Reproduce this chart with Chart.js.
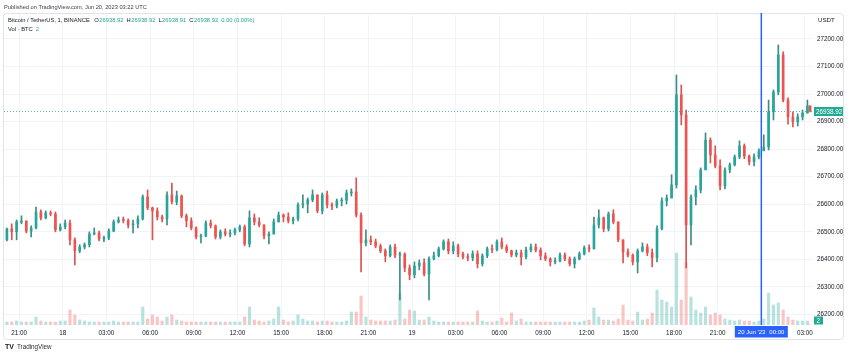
<!DOCTYPE html>
<html><head><meta charset="utf-8">
<script src="https://cdn.jsdelivr.net/npm/chart.js@4.4.0/dist/chart.umd.min.js"></script>
<style>html,body{margin:0;padding:0;background:#fff;}#wrap{position:relative;width:850px;height:356px;}</style>
</head><body><div id="wrap"><canvas id="c" width="850" height="356"></canvas></div>
<script>
// Time axis: minutes relative to 17 Jun 2023 21:00 UTC. Candles aggregated to 20-minute periods.
const START_MIN = -60;      // first candle opens 17 Jun 20:00
const PERIOD = 20;
const LAST_MIN = 3262;      // 20 Jun 03:22
const VIEW_MIN = -62, VIEW_MAX = 3273;

const opens = [26471,26511,26500,26536,26539,26503,26514,26572,26551,26569,26565,26507,26518,26532,26471,26431,26445,26453,26492,26496,
26474,26478,26503,26536,26543,26541,26525,26529,26547,26627,26587,26576,26554,26547,26634,26609,26630,26558,26540,26514,
26482,26485,26532,26522,26482,26500,26492,26496,26507,26518,26456,26551,26536,26525,26485,26492,26536,26561,26554,26540,
26547,26598,26601,26616,26634,26576,26634,26598,26594,26612,26615,26641,26645,26561,26460,26471,26464,26449,26431,26413,
26445,26416,26419,26369,26344,26376,26387,26347,26402,26413,26438,26464,26431,26449,26420,26409,26406,26420,26384,26413,
26438,26435,26464,26445,26431,26416,26424,26409,26434,26445,26434,26413,26402,26391,26395,26416,26402,26384,26402,26420,
26442,26438,26525,26551,26511,26565,26536,26471,26427,26416,26391,26431,26445,26424,26406,26511,26612,26623,26670,26997,
26924,26525,26627,26652,26725,26833,26779,26739,26667,26725,26743,26772,26812,26775,26754,26772,26794,26808,26935,27007,
27142,26978,26917,26899,26917,26931,26957];
const highs = [26514,26529,26543,26558,26540,26522,26590,26580,26576,26576,26572,26529,26543,26543,26478,26453,26460,26500,26514,26503,
26485,26511,26543,26554,26554,26547,26543,26558,26634,26652,26590,26587,26561,26645,26677,26648,26634,26565,26551,26518,
26492,26540,26543,26525,26507,26511,26507,26514,26525,26525,26576,26565,26551,26525,26500,26547,26572,26565,26569,26554,
26605,26634,26623,26652,26634,26641,26648,26605,26619,26623,26652,26656,26696,26569,26507,26485,26474,26456,26438,26453,
26456,26427,26424,26380,26391,26398,26402,26409,26427,26445,26471,26474,26464,26456,26427,26420,26431,26431,26420,26445,
26453,26471,26478,26453,26434,26434,26434,26445,26456,26456,26442,26424,26406,26406,26424,26424,26409,26409,26427,26449,
26453,26554,26580,26554,26572,26580,26536,26471,26438,26420,26438,26460,26456,26438,26522,26623,26634,26707,27069,27033,
26942,26634,26667,26732,26859,26841,26812,26761,26732,26750,26779,26830,26819,26779,26783,26801,26852,26978,27015,27178,
27153,26986,26935,26928,26942,26978,26957];
const lows = [26467,26471,26471,26529,26496,26482,26511,26543,26547,26558,26500,26503,26511,26453,26380,26424,26438,26445,26489,26467,
26464,26471,26500,26532,26532,26514,26496,26514,26543,26580,26471,26543,26536,26525,26601,26598,26551,26518,26507,26474,
26460,26482,26514,26474,26474,26485,26482,26489,26500,26449,26445,26525,26518,26474,26456,26492,26536,26536,26532,26529,
26540,26587,26569,26609,26569,26565,26587,26580,26587,26594,26601,26630,26554,26355,26449,26453,26442,26424,26391,26409,
26406,26253,26355,26326,26333,26362,26340,26253,26398,26409,26434,26420,26420,26409,26402,26395,26395,26369,26376,26406,
26424,26431,26438,26424,26409,26409,26380,26402,26427,26427,26398,26395,26376,26384,26391,26395,26376,26369,26398,26416,
26427,26438,26514,26500,26503,26529,26464,26387,26409,26380,26351,26427,26413,26373,26391,26507,26594,26623,26659,26888,
26369,26453,26598,26641,26725,26750,26732,26652,26656,26714,26739,26765,26765,26743,26739,26765,26794,26797,26906,26997,
26971,26891,26881,26884,26906,26931,26935];
const closes = [26511,26500,26536,26539,26503,26514,26572,26551,26569,26565,26507,26518,26532,26471,26431,26445,26453,26492,26496,26474,
26478,26503,26536,26543,26541,26525,26529,26547,26627,26587,26576,26554,26547,26634,26609,26630,26558,26540,26514,26482,
26485,26532,26522,26482,26500,26492,26496,26507,26518,26456,26551,26536,26525,26485,26492,26536,26561,26554,26540,26547,
26598,26601,26616,26634,26576,26634,26598,26594,26612,26615,26641,26645,26561,26460,26471,26464,26449,26431,26413,26445,
26416,26419,26369,26344,26376,26387,26347,26402,26413,26438,26464,26431,26449,26420,26409,26406,26420,26384,26413,26438,
26435,26464,26445,26431,26416,26424,26409,26434,26445,26434,26413,26402,26391,26395,26416,26402,26384,26402,26420,26442,
26438,26525,26551,26511,26565,26536,26471,26427,26416,26391,26431,26445,26424,26406,26511,26612,26623,26670,26997,26924,
26525,26627,26652,26725,26833,26779,26739,26667,26725,26743,26772,26812,26775,26754,26772,26794,26808,26935,27007,27142,
26978,26917,26899,26917,26931,26957,26938.92];
const volumes = [60,60,80,60,60,60,160,80,60,60,60,80,80,300,200,100,80,60,60,60,
60,60,80,60,60,60,60,60,360,120,200,160,80,160,200,100,80,60,60,60,
60,60,60,60,60,60,60,60,60,160,360,100,80,60,80,120,360,100,60,80,
200,120,80,80,60,80,80,60,60,60,80,260,260,580,160,100,80,80,80,80,
100,640,120,300,280,100,100,160,80,60,60,60,60,60,60,60,60,280,80,60,
60,80,140,60,240,80,120,60,60,60,60,60,60,60,60,60,60,60,60,80,
100,340,160,100,100,80,120,400,100,80,260,100,120,240,700,500,460,360,1440,500,
1240,560,300,240,360,200,240,200,120,100,80,100,80,80,60,80,120,640,400,440,
300,160,100,80,80,80,2];

const xTickMinutes = [0,180,360,540,720,900,1080,1260,1440,1620,1800,1980,2160,2340,2520,2700,2880,3060,3240];
const xTickLabels = ["21:00","18","03:00","06:00","09:00","12:00","15:00","18:00","21:00","19","03:00","06:00","09:00","12:00","15:00","18:00","21:00","","03:00"];
const yTicks = [26200,26300,26400,26500,26600,26700,26800,26900,27000,27100,27200];
const Y_MIN = 26162, Y_MAX = 27294;
const VOL_MAX = 6240;
const LAST_PRICE = 26938.92;
const LAST_VOL = 2;
const CROSS_MIN = 3060;
const CROSS_DATE = "20 Jun '23", CROSS_TIME = "00:00";
const TITLE = "Published on TradingView.com, Jun 20, 2023 03:22 UTC";
const SYMBOL = "Bitcoin / TetherUS, 1, BINANCE";
const OHLC = [["O","26938.92"],["H","26938.92"],["L","26938.91"],["C","26938.92"]];
const CHANGE = "0.00 (0.00%)";

const UP = '#26a69a', DN = '#ef5350', TXT = '#131722';
const FONT = '"Liberation Sans", Arial, sans-serif';

const times = closes.map((_, i) => { const s = START_MIN + i * PERIOD; return s + Math.min(PERIOD, LAST_MIN - s) / 2; });
const isUp = closes.map((c, i) => c >= opens[i]);
const candleColors = isUp.map(u => u ? UP : DN);
const wickColors = isUp.map(u => u ? '#3d8c84' : '#d9534f');
const volColors = isUp.map(u => u ? 'rgba(38,166,154,0.33)' : 'rgba(239,83,80,0.33)');

const overlay = {
  id: 'overlay',
  afterDraw(chart) {
    const ctx = chart.ctx, ca = chart.chartArea, ys = chart.scales.y, xs = chart.scales.x, vs = chart.scales.v;
    ctx.save();
    ctx.strokeStyle = '#e0e3eb'; ctx.lineWidth = 1;
    ctx.beginPath(); ctx.roundRect(3.5, 13.5, 840, 326, 3); ctx.stroke();
    ctx.fillStyle = '#3b3e47'; ctx.font = '5.7px ' + FONT; ctx.textBaseline = 'middle'; ctx.textAlign = 'left';
    ctx.fillText(TITLE, 4, 7);
    ctx.font = '5.8px ' + FONT;
    let x = 8; const ly = 20.5;
    ctx.fillStyle = TXT; ctx.fillText(SYMBOL, x, ly); x += ctx.measureText(SYMBOL).width + 4.5;
    OHLC.forEach(([k, v]) => {
      ctx.fillStyle = TXT; ctx.fillText(k, x, ly); x += ctx.measureText(k).width + 0.5;
      ctx.fillStyle = UP; ctx.fillText(v, x, ly); x += ctx.measureText(v).width + 3;
    });
    ctx.fillStyle = UP; ctx.fillText(CHANGE, x, ly);
    ctx.fillStyle = TXT; ctx.fillText('Vol · BTC', 8, 29.5);
    ctx.fillStyle = UP; ctx.fillText(String(LAST_VOL), 8 + ctx.measureText('Vol · BTC').width + 3, 29.5);
    ctx.font = '6.2px ' + FONT;
    ctx.fillStyle = TXT; ctx.fillText('USDT', 818, 20);
    const py = Math.round(ys.getPixelForValue(LAST_PRICE)) + 0.5;
    ctx.strokeStyle = 'rgba(38,166,154,0.75)'; ctx.lineWidth = 1; ctx.setLineDash([1, 2]); ctx.beginPath(); ctx.moveTo(ca.left, py); ctx.lineTo(ca.right, py); ctx.stroke(); ctx.setLineDash([]);
    ctx.fillStyle = '#22ab94'; ctx.fillRect(814, py - 4.5, 29, 9);
    ctx.fillStyle = '#fff'; ctx.font = '6.3px ' + FONT; ctx.fillText(LAST_PRICE.toFixed(2), 816, py + 0.5);
    const vy = Math.min(vs.getPixelForValue(LAST_VOL), ca.bottom - 4);
    ctx.fillStyle = '#22ab94'; ctx.fillRect(814, vy - 4.5, 9, 8);
    ctx.fillStyle = '#fff'; ctx.fillText(String(LAST_VOL), 816.5, vy);
    const cx = xs.getPixelForValue(CROSS_MIN);
    ctx.strokeStyle = '#2962ff'; ctx.lineWidth = 1.5;
    ctx.beginPath(); ctx.moveTo(cx, ca.top); ctx.lineTo(cx, ca.bottom); ctx.stroke();
    ctx.fillStyle = '#2962ff'; ctx.fillRect(cx - 26.5, 326, 53, 11.5);
    ctx.fillStyle = '#fff'; ctx.font = '6px ' + FONT;
    ctx.textAlign = 'right'; ctx.fillText(CROSS_DATE, cx + 4, 332);
    ctx.textAlign = 'left'; ctx.fillText(CROSS_TIME, cx + 8, 332);
    ctx.fillStyle = TXT; ctx.font = 'bold 7px ' + FONT; ctx.fillText('TV', 5, 347.5);
    ctx.font = '6.3px ' + FONT; ctx.fillStyle = '#2a2e39'; ctx.fillText('TradingView', 17, 347.5);
    ctx.restore();
  }
};

new Chart(document.getElementById('c'), {
  type: 'bar',
  data: {
    datasets: [
      { label: 'Body', yAxisID: 'y', order: 1, grouped: false, barThickness: 2, minBarLength: 1,
        data: closes.map((c, i) => ({ x: times[i], y: [opens[i], c] })), backgroundColor: candleColors },
      { label: 'Wick', yAxisID: 'y', order: 2, grouped: false, barThickness: 1,
        data: highs.map((h, i) => ({ x: times[i], y: [lows[i], h] })), backgroundColor: wickColors },
      { label: 'Volume', yAxisID: 'v', order: 3, grouped: false, barThickness: 2.5,
        data: volumes.map((v, i) => ({ x: times[i], y: v })), backgroundColor: volColors }
    ]
  },
  options: {
    responsive: false, animation: false, devicePixelRatio: 1,
    layout: { padding: { left: 4, top: 13, right: 0, bottom: 15 } },
    plugins: { legend: { display: false }, tooltip: { enabled: false } },
    scales: {
      x: { type: 'linear', min: VIEW_MIN, max: VIEW_MAX, offset: false,
        afterBuildTicks: s => { s.ticks = xTickMinutes.map(v => ({ value: v })); },
        afterFit: s => { s.height = 16; },
        ticks: { callback: (v, i) => xTickLabels[i], font: { family: FONT, size: 6.3 }, color: TXT, padding: 4, maxRotation: 0, autoSkip: false },
        grid: { color: '#f0f3fa', drawTicks: false, offset: false }, border: { display: false } },
      y: { position: 'right', min: Y_MIN, max: Y_MAX,
        afterBuildTicks: s => { s.ticks = yTicks.map(v => ({ value: v })); },
        afterFit: s => { s.width = 37; },
        ticks: { callback: v => v.toFixed(2), font: { family: FONT, size: 6.3 }, color: TXT, padding: 4 },
        grid: { color: '#f0f3fa', drawTicks: false }, border: { display: false } },
      v: { display: false, min: 0, max: VOL_MAX }
    }
  },
  plugins: [overlay]
});
</script></body></html>
